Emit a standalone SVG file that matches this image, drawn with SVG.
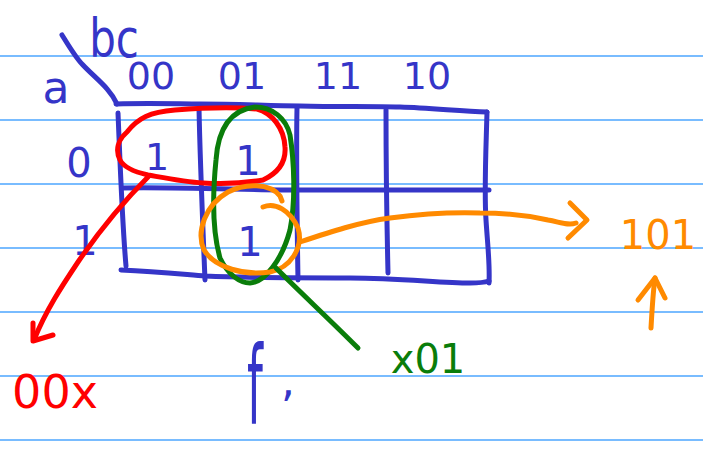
<svg xmlns="http://www.w3.org/2000/svg" width="703" height="456" viewBox="0 0 703 456">
<style>
.rule{stroke:#4da6ff;stroke-width:1.5}
.ink{fill:none;stroke-linecap:round;stroke-linejoin:round}
.b{stroke:#3535c8;stroke-width:5}
.r{stroke:#ff0000;stroke-width:5}
.g{stroke:#0a7d0a;stroke-width:5}
.o{stroke:#ff8a00;stroke-width:5}
.t{font-family:"DejaVu Sans","Liberation Sans",sans-serif;text-anchor:middle}
.tb{fill:#3535c8}
.tr{fill:#ff0000}
.tg{fill:#0a7d0a}
.to{fill:#ff8a00}
</style>
<rect width="703" height="456" fill="#ffffff"/>
<g id="paper">
<line class="rule" x1="0" y1="56" x2="703" y2="56"/>
<line class="rule" x1="0" y1="120" x2="703" y2="120"/>
<line class="rule" x1="0" y1="184" x2="703" y2="184"/>
<line class="rule" x1="0" y1="248" x2="703" y2="248"/>
<line class="rule" x1="0" y1="312" x2="703" y2="312"/>
<line class="rule" x1="0" y1="376" x2="703" y2="376"/>
<line class="rule" x1="0" y1="440" x2="703" y2="440"/>
</g>
<g id="kmap">
<path class="ink b" d="M62,35 C70,48 76,58 82,64 C95,78 110,88 117,104"/>
<path class="ink b" d="M116,104 C150,103 180,104 200,104 C240,104 270,106 300,106 C340,107 370,106 400,107 C430,108 460,111 487,112"/>
<path class="ink b" d="M118,113 C120,160 122,220 126,266"/>
<path class="ink b" d="M199,108 C200,160 203,230 205,280"/>
<path class="ink b" d="M297,108 C296,160 297,220 298,280"/>
<path class="ink b" d="M386,110 C386,170 387,230 388,273"/>
<path class="ink b" d="M487,112 C486,150 484,190 486,220 C488,250 490,265 489,283"/>
<path class="ink b" d="M122,188 C180,187 250,190 300,190 C380,190 440,190 489,190"/>
<path class="ink b" d="M121,270 C160,272 190,275 205,276 C250,278 300,278 350,278 C400,278 440,283 470,283 C480,283 486,282 489,281"/>
<text class="t tb" x="56" y="103" font-size="44">a</text>
<text class="t tb" transform="translate(114,57) scale(1,1.25)" font-size="42">bc</text>
<text class="t tb" x="151" y="89" font-size="38">00</text>
<text class="t tb" x="242" y="89" font-size="38">01</text>
<text class="t tb" x="338" y="89" font-size="38">11</text>
<text class="t tb" x="427" y="89" font-size="38">10</text>
<text class="t tb" x="79" y="177" font-size="40">0</text>
<text class="t tb" x="85" y="255" font-size="40">1</text>
<text class="t tb" x="157" y="170" font-size="38">1</text>
<text class="t tb" x="248" y="175" font-size="40">1</text>
<text class="t tb" x="250" y="256" font-size="40">1</text>
<text class="t tb" transform="translate(255,424) scale(1,2.4)" font-size="45">f</text>
<text class="t tb" x="288" y="396" font-size="44">,</text>
</g>
<g id="groups">
<path id="red-loop" class="ink r" d="M148,175 C135,172 124,168 120,160 C115,150 118,140 127,132 C138,118 150,112 175,110 C200,108 235,107 257,109 C272,113 284,128 285,147 C286,160 280,172 263,180 C240,184 220,184 203,183 C185,182 165,178 148,175 Z"/>
<path id="green-loop" class="ink g" d="M255,107 C230,110 218,130 216,160 C213,190 212,230 220,258 C228,275 240,283 250,283 C265,282 282,260 290,230 C296,200 294,160 290,135 C286,118 272,107 255,107 Z"/>
<path id="orange-loop" class="ink o" d="M263,207 C275,202 290,210 298,228 C304,248 290,268 270,272 C245,276 215,268 204,250 C196,232 205,205 228,192 C245,183 270,183 280,196 L282,201"/>
</g>
<g id="connectors">
<path class="ink r" d="M148,177 C125,200 100,230 78,262 C62,286 46,310 34,340"/>
<path class="ink r" d="M33,323 L33,341 L53,335"/>
<path class="ink g" d="M276,268 C300,292 330,320 358,348"/>
<path class="ink o" d="M300,242 C330,232 360,222 390,218 C420,214 450,212 480,213 C510,213 530,216 548,220 C560,222 568,226 576,223"/>
<path class="ink o" d="M570,203 L587,220 L568,238"/>
<path class="ink o" d="M651,328 C652,310 653,292 655,278"/>
<path class="ink o" d="M638,300 L655,278 L665,298"/>
</g>
<g id="labels">
<text class="t tr" x="55" y="408" font-size="46">00x</text>
<text class="t tg" x="428" y="373" font-size="40">x01</text>
<text class="t to" x="658" y="249" font-size="40">101</text>
</g>
</svg>
